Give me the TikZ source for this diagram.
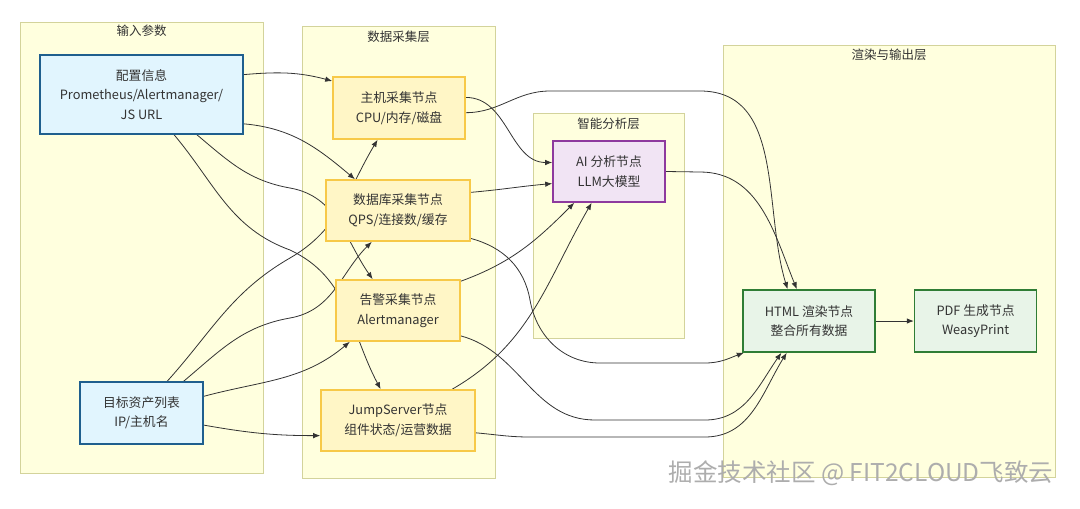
\documentclass[tikz,border=0pt]{standalone}
\usepackage{fontspec}
\setmainfont{Noto Sans CJK SC}
\usepackage{tikz}
\usetikzlibrary{arrows.meta,positioning,backgrounds}
\definecolor{panelfill}{HTML}{FFFFDE}
\definecolor{paneldraw}{HTML}{D3D39B}
\definecolor{inputfill}{HTML}{E1F5FE}
\definecolor{inputdraw}{HTML}{1F5F8E}
\definecolor{collectfill}{HTML}{FFF6C6}
\definecolor{collectdraw}{HTML}{F7C948}
\definecolor{aifill}{HTML}{F1E4F4}
\definecolor{aidraw}{HTML}{8E3A9E}
\definecolor{outfill}{HTML}{E8F4E8}
\definecolor{outdraw}{HTML}{2F7D35}
\definecolor{edgegray}{HTML}{333333}
\definecolor{textgray}{HTML}{333333}
\pgfdeclarelayer{panel}
\pgfsetlayers{panel,background,main}
\tikzstyle{panelbox} = [rectangle, draw=paneldraw, fill=panelfill, line width=0.8pt, inner sep=0pt]
\tikzstyle{paneltitle} = [font=\fontsize{12.5}{15}\selectfont, text=textgray, inner sep=2pt]
\tikzstyle{nodebox} = [rectangle, line width=1.6pt, align=center, text=textgray,
    font=\fontsize{12.8}{19.5}\selectfont]
\tikzstyle{inputbox} = [nodebox, draw=inputdraw, fill=inputfill]
\tikzstyle{collectbox} = [nodebox, draw=collectdraw, fill=collectfill]
\tikzstyle{aibox} = [nodebox, draw=aidraw, fill=aifill]
\tikzstyle{outbox} = [nodebox, draw=outdraw, fill=outfill]
\tikzstyle{arrow} = [-{Latex[length=7pt,width=5.5pt]}, line width=0.8pt, edgegray]
\tikzstyle{watermark} = [font=\fontsize{24.5}{27}\selectfont, text=black!32]

\begin{document}
\begin{tikzpicture}[x=1pt, y=-1pt]
\useasboundingbox (0,0) rectangle (1080,509);

\begin{pgfonlayer}{panel}
\node[panelbox, minimum width=243pt, minimum height=451pt] (inpanel) at (141.5,247.5) {};
\node[panelbox, minimum width=193pt, minimum height=452pt] (collectpanel) at (398.5,252) {};
\node[panelbox, minimum width=151pt, minimum height=225pt] (aipanel) at (608.5,225.5) {};
\node[panelbox, minimum width=332pt, minimum height=432pt] (outpanel) at (889,261) {};
\end{pgfonlayer}
\node[paneltitle, below=1pt of inpanel.north] (intitle) {输入参数};
\node[paneltitle, below=3pt of collectpanel.north] (collecttitle) {数据采集层};
\node[paneltitle, below=3pt of aipanel.north] (aititle) {智能分析层};
\node[paneltitle, below=2pt of outpanel.north] (outtitle) {渲染与输出层};

\node[inputbox, minimum width=203pt, minimum height=79pt] (cfg) at (141.5,94.5) {配置信息\\Prometheus/Alertmanager/\\JS URL};
\node[inputbox, minimum width=123pt, minimum height=62pt] (tgt) at (141.5,413) {目标资产列表\\IP/主机名};
\node[collectbox, minimum width=132pt, minimum height=62pt] (host) at (399,108) {主机采集节点\\CPU/内存/磁盘};
\node[collectbox, minimum width=144pt, minimum height=61pt] (db) at (398,210.5) {数据库采集节点\\QPS/连接数/缓存};
\node[collectbox, minimum width=124pt, minimum height=61pt] (alert) at (398,310.5) {告警采集节点\\Alertmanager};
\node[collectbox, minimum width=154pt, minimum height=61pt] (js) at (398,420.5) {JumpServer节点\\组件状态/运营数据};
\node[aibox, minimum width=112pt, minimum height=61pt] (ai) at (609,171.5) {AI 分析节点\\LLM大模型};
\node[outbox, minimum width=132pt, minimum height=62pt] (html) at (809,321) {HTML 渲染节点\\整合所有数据};
\node[outbox, minimum width=122pt, minimum height=62pt, right=38pt of html] (pdf) {PDF 生成节点\\WeasyPrint};

\begin{scope}[on background layer]
\draw[arrow] (cfg.11) to[out=5,in=165] (host.158);
\draw[arrow] (cfg.-16) to[out=-5,in=140] (db.144);
\draw[arrow] (cfg.-36) to[out=-40,in=170] (290,188) to[out=-10,in=125] (alert.129);
\draw[arrow] (cfg.-51) to[out=-50,in=160] (290,250) to[out=-25,in=118] (js.119);
\draw[arrow] (tgt.51) to[out=48,in=210] (290,258) to[out=30,in=-121] (host.236);
\draw[arrow] (tgt.37) to[out=40,in=190] (290,318) to[out=10,in=-135] (db.230);
\draw[arrow] (tgt.15) to[out=15,in=-140] (alert.213);
\draw[arrow] (tgt.-11) to[out=-10,in=180] (js.191);
\draw[arrow] (host.9) to[out=0,in=180] (ai.171);
\draw[arrow] (host.-4) to[out=0,in=180] (550,91) -- (700,91) to[out=0,in=107] (html.124);
\draw[arrow] (db.14) to[out=5,in=185] (ai.192);
\draw[arrow] (db.-21) to[out=-15,in=100] (530,300) to[out=-80,in=180] (600,363) -- (705,363) to[out=0,in=-160] (html.206);
\draw[arrow] (alert.25) to[out=20,in=-135] (ai.222);
\draw[arrow] (alert.-22) to[out=-15,in=180] (595,420) -- (705,420) to[out=0,in=-125] (html.229);
\draw[arrow] (js.30) to[out=30,in=-120] (ai.241);
\draw[arrow] (js.-9) to[out=-5,in=180] (530,437) -- (705,437) to[out=0,in=-122] (html.235);
\draw[arrow] (ai.east) -- (700,172) to[out=0,in=112] (html.111);
\draw[arrow] (html) -- (pdf);
\end{scope}

\node[watermark] (mark) at (861,473) {掘金技术社区 @ FIT2CLOUD飞致云};
\end{tikzpicture}
\end{document}
